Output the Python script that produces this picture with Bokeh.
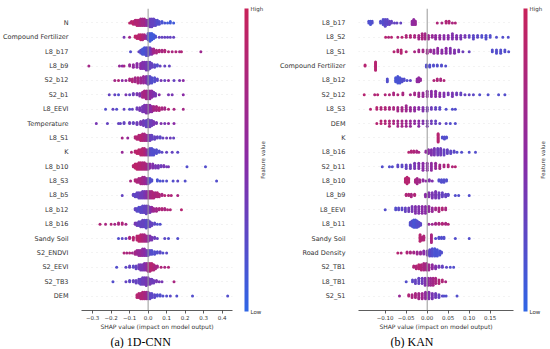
import numpy as np
from math import pi
from bokeh.plotting import figure
from bokeh.models import (ColumnDataSource, LinearColorMapper, FixedTicker,
                          Span, Range1d, Title)
from bokeh.core.properties import value
from bokeh.layouts import row
from bokeh.transform import linear_cmap
from bokeh.embed import file_html
from bokeh.resources import INLINE

# ---------------- (a) 1D-CNN ----------------
cnn_features = ["N", "Compound Fertilizer", "L8_b17", "L8_b9", "S2_b12", "S2_b1", "L8_EEVI",
                "Temperature", "L8_S1", "K", "L8_b10", "L8_S3", "L8_b5", "L8_b12", "L8_b16",
                "Sandy Soil", "S2_ENDVI", "S2_EEVI", "S2_TB3", "DEM"]
cnn_shap = [
    [-0.10, -0.09, -0.08, -0.07, -0.06, -0.05, -0.04, -0.03, -0.02, -0.01, 0.0, 0.01, 0.02, 0.03, 0.04, 0.05, 0.06, 0.075, 0.09, 0.105, 0.12, 0.138],
    [-0.13, -0.10, -0.07, -0.06, -0.05, -0.04, -0.03, -0.02, -0.01, 0.0, 0.01, 0.02, 0.03, 0.04, 0.06, 0.075, 0.09, 0.105, 0.12, 0.138],
    [-0.095, -0.05, -0.04, -0.03, -0.02, -0.01, 0.0, 0.01, 0.02, 0.03, 0.045, 0.06, 0.075, 0.09, 0.11, 0.13, 0.15, 0.17, 0.18, 0.285],
    [-0.32, -0.155, -0.14, -0.13, -0.10, -0.08, -0.06, -0.04, -0.03, -0.02, -0.01, 0.0, 0.01, 0.02, 0.035, 0.05, 0.065, 0.09, 0.115],
    [-0.18, -0.16, -0.14, -0.12, -0.10, -0.085, -0.07, -0.055, -0.04, -0.025, -0.01, 0.0, 0.01, 0.02, 0.035, 0.05, 0.07, 0.09, 0.11, 0.14, 0.17, 0.19],
    [-0.21, -0.18, -0.16, -0.12, -0.10, -0.08, -0.06, -0.045, -0.03, -0.02, -0.01, 0.0, 0.01, 0.02, 0.03, 0.04, 0.06, 0.11, 0.13, 0.19],
    [-0.23, -0.19, -0.17, -0.13, -0.10, -0.085, -0.06, -0.045, -0.03, -0.02, -0.01, 0.0, 0.01, 0.02, 0.03, 0.045, 0.06, 0.075, 0.09, 0.11, 0.14, 0.19],
    [-0.28, -0.22, -0.16, -0.15, -0.13, -0.10, -0.08, -0.06, -0.04, -0.025, -0.01, 0.0, 0.01, 0.02, 0.03, 0.045, 0.07, 0.09, 0.11, 0.14],
    [-0.14, -0.11, -0.07, -0.06, -0.05, -0.04, -0.03, -0.02, -0.01, 0.0, 0.01, 0.02, 0.035, 0.05, 0.065, 0.08, 0.10, 0.12, 0.138],
    [-0.14, -0.09, -0.07, -0.06, -0.05, -0.04, -0.03, -0.02, -0.01, 0.0, 0.01, 0.02, 0.03, 0.045, 0.06, 0.075, 0.10, 0.13, 0.16],
    [-0.08, -0.07, -0.06, -0.05, -0.04, -0.03, -0.02, -0.01, 0.0, 0.01, 0.025, 0.04, 0.055, 0.07, 0.085, 0.10, 0.11, 0.21, 0.31],
    [-0.095, -0.07, -0.06, -0.05, -0.04, -0.03, -0.02, -0.01, 0.0, 0.01, 0.02, 0.05, 0.065, 0.08, 0.10, 0.135, 0.16, 0.20, 0.37],
    [-0.14, -0.08, -0.07, -0.06, -0.05, -0.04, -0.03, -0.02, -0.01, 0.0, 0.01, 0.02, 0.03, 0.04, 0.05, 0.06, 0.075, 0.09, 0.11, 0.125, 0.16],
    [-0.07, -0.06, -0.05, -0.04, -0.03, -0.02, -0.01, 0.0, 0.01, 0.02, 0.03, 0.045, 0.06, 0.075, 0.09, 0.105, 0.12, 0.18],
    [-0.26, -0.23, -0.20, -0.18, -0.16, -0.14, -0.12, -0.07, -0.06, -0.05, -0.04, -0.03, -0.02, -0.01, 0.0, 0.01, 0.02, 0.035, 0.05, 0.065],
    [-0.16, -0.14, -0.12, -0.10, -0.08, -0.06, -0.05, -0.04, -0.03, -0.02, -0.01, 0.0, 0.01, 0.02, 0.035, 0.05, 0.09, 0.11, 0.16],
    [-0.13, -0.115, -0.10, -0.085, -0.07, -0.06, -0.05, -0.04, -0.03, -0.02, -0.01, 0.0, 0.01, 0.02, 0.035, 0.05, 0.065, 0.08, 0.10],
    [-0.17, -0.12, -0.10, -0.08, -0.065, -0.05, -0.04, -0.03, -0.02, -0.01, 0.0, 0.01, 0.02, 0.03, 0.04, 0.05, 0.07, 0.09, 0.11],
    [-0.19, -0.12, -0.10, -0.08, -0.065, -0.05, -0.04, -0.03, -0.02, -0.01, 0.0, 0.01, 0.02, 0.03, 0.045, 0.06, 0.075, 0.14],
    [-0.06, -0.05, -0.04, -0.03, -0.02, -0.01, 0.0, 0.01, 0.02, 0.035, 0.05, 0.065, 0.08, 0.10, 0.12, 0.155, 0.24, 0.43],
]
cnn_count = [
    [1, 2, 3, 4, 5, 5, 6, 6, 6, 5, 5, 7, 7, 6, 5, 4, 3, 2, 1, 1, 2, 1],
    [1, 1, 2, 3, 4, 5, 5, 4, 3, 6, 7, 6, 4, 2, 1, 1, 1, 1, 1, 1],
    [1, 1, 3, 5, 6, 7, 7, 6, 5, 4, 3, 2, 2, 2, 1, 1, 1, 1, 1, 1],
    [1, 1, 1, 1, 2, 3, 4, 5, 6, 6, 7, 7, 6, 4, 3, 2, 1, 1, 1],
    [1, 1, 1, 1, 2, 3, 4, 5, 5, 6, 6, 7, 6, 5, 4, 2, 1, 1, 1, 1, 1, 1],
    [1, 1, 1, 1, 1, 2, 2, 3, 5, 6, 7, 7, 7, 6, 4, 3, 1, 1, 1, 1],
    [1, 1, 1, 1, 1, 1, 2, 3, 5, 6, 7, 7, 6, 5, 4, 4, 3, 2, 2, 1, 1, 1],
    [1, 1, 1, 1, 2, 2, 2, 3, 4, 6, 7, 8, 7, 6, 4, 2, 1, 1, 1, 1],
    [1, 1, 2, 3, 4, 5, 6, 6, 5, 5, 5, 4, 3, 2, 2, 1, 1, 1, 1],
    [1, 1, 2, 3, 4, 5, 6, 6, 5, 5, 6, 6, 5, 4, 2, 1, 1, 1, 1],
    [2, 4, 5, 6, 6, 6, 6, 5, 5, 4, 4, 3, 3, 2, 2, 1, 1, 1, 1],
    [1, 2, 3, 4, 5, 6, 6, 5, 5, 4, 2, 2, 1, 1, 1, 1, 1, 1, 1],
    [1, 2, 3, 4, 5, 5, 6, 6, 6, 6, 6, 6, 5, 4, 4, 3, 2, 1, 1, 1, 1],
    [2, 3, 4, 5, 6, 6, 7, 6, 5, 4, 3, 3, 2, 2, 2, 1, 1, 1],
    [1, 1, 1, 1, 2, 2, 1, 2, 3, 4, 5, 6, 6, 7, 6, 5, 3, 2, 1, 1],
    [1, 1, 1, 2, 3, 4, 5, 6, 6, 6, 5, 5, 4, 3, 2, 1, 1, 1, 1],
    [1, 1, 1, 1, 3, 4, 5, 5, 6, 6, 5, 5, 4, 4, 3, 2, 2, 1, 1],
    [1, 1, 2, 2, 3, 4, 5, 5, 6, 6, 7, 7, 6, 5, 3, 2, 1, 1, 1],
    [1, 1, 2, 2, 3, 4, 5, 6, 6, 7, 6, 5, 4, 3, 2, 1, 1, 1],
    [3, 4, 5, 6, 6, 6, 6, 5, 4, 3, 2, 2, 1, 1, 1, 1, 1, 1],
]
cnn_value = [
    [.9, .85, .9, .8, .85, .8, .75, .7, .7, .6, .45, .35, .3, .3, .25, .2, .2, .15, .15, .1, .1, .1],
    [.4, .7, .9, .9, .85, .9, .8, .75, .6, .2, .1, .1, .1, .15, .3, .3, .3, .3, .3, .3],
    [.2, .3, .2, .15, .15, .2, .25, .3, .5, .7, .75, .8, .75, .8, .8, .75, .8, .7, .8, .65],
    [.7, .6, .5, .7, .6, .55, .5, .5, .45, .45, .4, .35, .3, .3, .25, .2, .3, .3, .3],
    [.7, .8, .5, .6, .75, .8, .7, .75, .65, .6, .5, .3, .25, .2, .2, .25, .4, .3, .5, .3, .4, .5],
    [.3, .3, .2, .4, .3, .35, .4, .45, .7, .75, .7, .6, .55, .5, .45, .4, .5, .4, .4, .5],
    [.2, .3, .2, .3, .2, .3, .35, .4, .4, .4, .45, .45, .5, .55, .7, .75, .8, .75, .7, .8, .75, .7],
    [.4, .3, .3, .3, .3, .35, .3, .35, .4, .35, .3, .3, .35, .35, .4, .4, .45, .4, .5, .5],
    [.7, .6, .8, .85, .8, .85, .8, .75, .7, .5, .35, .3, .3, .3, .25, .3, .35, .35, .3],
    [.6, .8, .85, .9, .9, .85, .85, .8, .7, .4, .25, .2, .2, .2, .2, .25, .3, .3, .25],
    [.85, .9, .9, .85, .85, .8, .8, .75, .6, .5, .45, .4, .4, .35, .4, .35, .4, .2, .2],
    [.75, .8, .8, .75, .75, .7, .65, .6, .35, .2, .2, .15, .15, .2, .2, .2, .25, .2, .2],
    [.3, .3, .25, .3, .3, .35, .35, .4, .45, .6, .7, .75, .8, .75, .8, .8, .75, .85, .8, .8, .75],
    [.3, .25, .2, .25, .25, .3, .3, .35, .4, .55, .65, .7, .75, .8, .75, .8, .8, .85],
    [.8, .75, .8, .7, .75, .8, .7, .4, .35, .3, .3, .3, .3, .25, .25, .3, .3, .25, .2, .2],
    [.2, .25, .3, .75, .85, .85, .9, .85, .8, .75, .7, .55, .45, .4, .35, .3, .25, .2, .2],
    [.8, .75, .8, .7, .7, .65, .6, .6, .55, .5, .45, .3, .25, .2, .2, .2, .25, .2, .25],
    [.2, .25, .3, .25, .3, .35, .4, .4, .45, .5, .7, .8, .85, .8, .75, .7, .8, .75, .8],
    [.2, .3, .25, .3, .3, .3, .3, .35, .35, .4, .4, .4, .35, .35, .4, .4, .4, .75],
    [.85, .85, .8, .8, .75, .7, .5, .3, .25, .25, .2, .2, .2, .2, .25, .2, .2, .2],
]
cnn_ticks = [-0.3, -0.2, -0.1, 0.0, 0.1, 0.2, 0.3, 0.4]
cnn_tick_labels = ["\u22120.3", "\u22120.2", "\u22120.1", "0.0", "0.1", "0.2", "0.3", "0.4"]

# ---------------- (b) KAN ----------------
kan_features = ["L8_b17", "L8_S2", "L8_S1", "Compound Fertilizer", "L8_b12", "S2_b12", "L8_S3",
                "DEM", "K", "L8_b16", "S2_b11", "L8_b10", "L8_b9", "L8_EEVI", "L8_b11",
                "Sandy Soil", "Road Density", "S2_TB1", "L8_TB1", "S2_S1"]
kan_shap = [
    [-0.139, -0.135, -0.131, -0.111, -0.105, -0.10, -0.095, -0.09, -0.085, -0.078, -0.072, -0.063, -0.036, -0.032, -0.028, 0.024, 0.035, 0.045, 0.052, 0.06, 0.067],
    [-0.099, -0.092, -0.085, -0.07, -0.06, -0.05, -0.04, -0.03, -0.02, -0.012, -0.005, 0.003, 0.012, 0.02, 0.03, 0.04, 0.05, 0.06, 0.07, 0.08, 0.09, 0.10, 0.11, 0.12, 0.13, 0.14, 0.15, 0.165, 0.18, 0.193],
    [-0.079, -0.07, -0.062, -0.05, -0.03, -0.02, -0.01, 0.0, 0.008, 0.016, 0.025, 0.035, 0.045, 0.055, 0.065, 0.075, 0.085, 0.10, 0.155, 0.165, 0.175, 0.185, 0.194],
    [-0.148, -0.123, -0.002, 0.006, 0.015, 0.024, 0.034, 0.044],
    [-0.095, -0.075, -0.07, -0.065, -0.06, -0.055, -0.048, -0.04, -0.024, -0.02, -0.016, 0.016, 0.024, 0.032, 0.04],
    [-0.15, -0.125, -0.118, -0.10, -0.09, -0.08, -0.07, -0.058, -0.04, -0.03, -0.02, -0.01, 0.0, 0.01, 0.02, 0.03, 0.04, 0.05, 0.06, 0.07, 0.08, 0.09, 0.10, 0.11, 0.125, 0.145, 0.17, 0.185],
    [-0.135, -0.12, -0.11, -0.10, -0.09, -0.08, -0.07, -0.06, -0.05, -0.04, -0.03, -0.02, -0.01, 0.0, 0.01, 0.02, 0.03, 0.045, 0.06, 0.067],
    [-0.12, -0.11, -0.10, -0.09, -0.08, -0.07, -0.06, -0.05, -0.04, -0.03, -0.02, -0.01, 0.0, 0.01, 0.02, 0.03, 0.045, 0.055, 0.067],
    [0.026, 0.036, 0.041, 0.046],
    [-0.044, -0.038, -0.032, -0.025, -0.02, -0.003, 0.003, 0.01, 0.017, 0.025, 0.032, 0.04, 0.048, 0.056, 0.064, 0.071, 0.082, 0.10, 0.115],
    [-0.107, -0.09, -0.083, -0.07, -0.06, -0.05, -0.04, -0.03, -0.02, -0.01, 0.0, 0.01, 0.02, 0.03, 0.04, 0.05, 0.06, 0.067],
    [-0.052, -0.048, -0.044, -0.028, -0.024, -0.018, -0.01, -0.003, 0.005, 0.012, 0.028, 0.034, 0.04, 0.046],
    [-0.05, -0.044, -0.038, -0.03, -0.004, 0.004, 0.012, 0.02, 0.028, 0.036, 0.044, 0.05, 0.067, 0.075, 0.10],
    [-0.10, -0.075, -0.068, -0.06, -0.052, -0.044, -0.036, -0.028, -0.02, -0.012, -0.004, 0.004, 0.012, 0.02, 0.028, 0.036, 0.044],
    [-0.04, -0.036, -0.032, -0.028, -0.024, -0.02, -0.016, 0.004, 0.012, 0.02, 0.028, 0.036, 0.044, 0.05],
    [-0.017, -0.012, -0.008, 0.01, 0.02, 0.028, 0.034, 0.04, 0.067, 0.10],
    [-0.07, -0.062, -0.048, -0.04, -0.032, -0.024, -0.016, -0.008, 0.0, 0.006, 0.012, 0.018, 0.024, 0.03, 0.034],
    [-0.032, -0.026, -0.02, -0.014, -0.008, -0.002, 0.004, 0.012, 0.02, 0.028, 0.036, 0.046, 0.055, 0.063],
    [-0.05, -0.035, -0.028, -0.02, -0.012, -0.005, 0.002, 0.008, 0.014, 0.02, 0.028, 0.036, 0.044],
    [-0.066, -0.044, -0.036, -0.028, -0.02, -0.012, -0.004, 0.004, 0.012, 0.02, 0.028, 0.036, 0.04, 0.045, 0.071],
]
kan_count = [
    [2, 3, 2, 2, 4, 5, 4, 3, 2, 1, 1, 1, 3, 4, 3, 1, 1, 2, 2, 1, 1],
    [1, 1, 1, 1, 1, 2, 2, 2, 3, 4, 4, 3, 2, 3, 3, 3, 3, 4, 3, 3, 2, 2, 3, 2, 2, 3, 2, 1, 1, 1],
    [1, 2, 3, 1, 1, 2, 2, 3, 2, 3, 4, 3, 4, 4, 3, 2, 1, 1, 2, 3, 3, 2, 1],
    [2, 9, 3, 3, 2, 2, 2, 1],
    [3, 4, 6, 5, 3, 2, 1, 1, 3, 4, 2, 1, 2, 2, 1],
    [1, 1, 1, 1, 1, 2, 1, 2, 1, 2, 3, 3, 4, 4, 4, 3, 3, 2, 3, 2, 2, 1, 1, 1, 1, 1, 1, 1],
    [1, 2, 2, 2, 2, 2, 3, 3, 4, 3, 3, 2, 3, 3, 2, 2, 2, 1, 1, 1],
    [1, 2, 2, 3, 2, 3, 3, 3, 3, 2, 3, 2, 3, 2, 2, 1, 1, 1, 1],
    [9, 2, 3, 2],
    [1, 2, 2, 2, 1, 2, 4, 5, 6, 6, 6, 5, 4, 3, 2, 1, 1, 1, 1],
    [1, 1, 1, 2, 2, 3, 3, 4, 4, 5, 5, 5, 4, 3, 2, 2, 1, 1],
    [4, 6, 4, 3, 5, 3, 2, 1, 2, 1, 2, 3, 3, 2],
    [2, 2, 3, 2, 3, 4, 5, 6, 5, 4, 3, 2, 1, 1, 1],
    [1, 2, 2, 2, 3, 3, 4, 5, 5, 5, 5, 4, 3, 2, 3, 2, 2],
    [4, 6, 8, 8, 7, 5, 3, 1, 1, 2, 2, 2, 2, 1],
    [6, 3, 4, 7, 1, 2, 2, 2, 1, 1],
    [1, 1, 2, 2, 2, 3, 3, 4, 5, 7, 8, 8, 7, 5, 2],
    [2, 3, 4, 5, 6, 6, 5, 4, 3, 2, 2, 1, 1, 1],
    [1, 2, 3, 4, 4, 5, 5, 5, 5, 4, 3, 2, 1],
    [1, 2, 3, 4, 5, 5, 6, 6, 5, 4, 3, 1, 1, 1, 1],
]
kan_value = [
    [.2, .15, .2, .2, .2, .25, .25, .3, .3, .3, .3, .3, .55, .55, .6, .8, .75, .8, .8, .75, .8],
    [.85, .8, .85, .8, .85, .8, .8, .75, .7, .75, .7, .65, .6, .55, .55, .5, .5, .45, .45, .4, .4, .3, .25, .25, .2, .2, .2, .2, .2, .2],
    [.85, .8, .85, .8, .75, .7, .7, .65, .6, .55, .55, .5, .5, .45, .45, .4, .35, .3, .2, .2, .2, .2, .2],
    [.85, .85, .2, .2, .2, .2, .2, .2],
    [.2, .15, .15, .15, .2, .2, .2, .25, .55, .55, .6, .8, .8, .75, .8],
    [.85, .8, .85, .8, .8, .75, .8, .75, .7, .7, .65, .6, .55, .5, .5, .5, .45, .4, .4, .35, .3, .3, .3, .25, .2, .2, .2, .2],
    [.85, .85, .8, .8, .75, .75, .7, .7, .65, .6, .55, .5, .45, .4, .35, .3, .25, .2, .2, .2],
    [.85, .85, .8, .8, .75, .7, .7, .65, .6, .55, .5, .45, .4, .35, .3, .3, .25, .2, .2],
    [.85, .2, .2, .2],
    [.85, .8, .8, .75, .75, .55, .5, .45, .4, .35, .35, .3, .3, .25, .25, .2, .2, .2, .2],
    [.2, .2, .2, .25, .25, .3, .35, .4, .45, .5, .5, .55, .6, .7, .75, .8, .8, .85],
    [.85, .85, .85, .75, .7, .7, .55, .5, .45, .45, .2, .2, .2, .2],
    [.8, .8, .75, .8, .5, .45, .4, .4, .35, .3, .3, .25, .2, .2, .2],
    [.2, .2, .25, .25, .3, .35, .4, .45, .45, .5, .5, .55, .6, .7, .75, .8, .75],
    [.2, .2, .15, .15, .2, .2, .25, .6, .65, .7, .75, .8, .75, .8],
    [.85, .8, .8, .75, .2, .2, .2, .2, .2, .2],
    [.85, .8, .8, .75, .7, .65, .6, .5, .4, .25, .2, .15, .15, .15, .2],
    [.8, .8, .85, .8, .75, .7, .65, .55, .45, .4, .3, .25, .2, .2],
    [.2, .25, .3, .3, .35, .45, .55, .65, .7, .75, .8, .8, .75],
    [.6, .8, .75, .75, .7, .65, .55, .45, .4, .35, .3, .25, .2, .2, .2],
]
kan_ticks = [-0.10, -0.05, 0.0, 0.05, 0.10, 0.15]
kan_tick_labels = ["\u22120.10", "\u22120.05", "0.00", "0.05", "0.10", "0.15"]

colorbar_labels = ["Low", "High"]
colorbar_title = "Feature value"

# ---------------- styling helpers ----------------
def make_palette(n=256):
    anchors = np.array([[0x2f, 0x66, 0xe6], [0x8a, 0x2b, 0xa6], [0xc8, 0x22, 0x5a]], float)
    out = []
    for t in np.linspace(0, 1, n):
        if t <= 0.5:
            c = anchors[0] + (anchors[1] - anchors[0]) * (t / 0.5)
        else:
            c = anchors[1] + (anchors[2] - anchors[1]) * ((t - 0.5) / 0.5)
        out.append("#%02x%02x%02x" % tuple(int(round(v)) for v in c))
    return out

PALETTE = make_palette()
TXT = "#333333"
FONT = "DejaVu Sans"
FIG_H = 348
TOP = 8
FRAME_H = 303
BOTTOM = FIG_H - TOP - FRAME_H


def no_align(f):
    if "frame_align" in f.properties():
        f.frame_align = False
    return f


def swarm(xs, row_height=0.4, nbins=100):
    xs = np.asarray(xs, float)
    rng = xs.max() - xs.min()
    quant = np.round(nbins * (xs - xs.min()) / (rng + 1e-8))
    order = np.argsort(quant, kind="stable")
    ys = np.zeros(len(xs))
    layer, last = 0, None
    for i in order:
        if quant[i] != last:
            layer = 0
        ys[i] = np.ceil(layer / 2) * ((layer % 2) * 2 - 1)
        layer += 1
        last = quant[i]
    ys *= 0.9 * (row_height / np.max(ys + 1))
    return ys


def build(features, shap_rows, count_rows, value_rows):
    n = len(features)
    X, Y, F = [], [], []
    for i in range(n):
        s, c, v = shap_rows[i], count_rows[i], value_rows[i]
        assert len(s) == len(c) == len(v), (features[i], len(s), len(c), len(v))
        x = np.repeat(np.array(s, float), c)
        f = np.repeat(np.array(v, float), c)
        y = (n - 1 - i) + swarm(x)
        X.extend(x.tolist()); Y.extend(y.tolist()); F.extend(f.tolist())
    return ColumnDataSource(dict(x=X, y=Y, f=F))


def panel(features, shap_rows, count_rows, value_rows, xr, ticks, tick_labels,
          width, border_left, caption, cap_x):
    n = len(features)
    p = figure(width=width, height=FIG_H, x_range=Range1d(*xr), y_range=Range1d(-1, n),
               output_backend="svg", toolbar_location=None,
               min_border_left=border_left, min_border_right=1,
               min_border_top=TOP, min_border_bottom=BOTTOM)
    no_align(p)
    p.outline_line_color = None
    p.xgrid.visible = False
    p.ygrid.ticker = FixedTicker(ticks=list(range(n)))
    p.ygrid.grid_line_color = "#cccccc"
    p.ygrid.grid_line_width = 0.5
    p.ygrid.grid_line_dash = "1 4"

    yax = p.yaxis[0]
    yax.ticker = FixedTicker(ticks=list(range(n)))
    yax.major_label_overrides = {n - 1 - i: name for i, name in enumerate(features)}
    yax.axis_line_color = None
    yax.major_tick_line_color = None
    yax.minor_tick_line_color = None
    yax.major_label_standoff = 7
    yax.major_label_text_font_size = "6.5px"
    yax.major_label_text_font = FONT
    yax.major_label_text_color = TXT

    xax = p.xaxis[0]
    xax.ticker = FixedTicker(ticks=ticks)
    xax.major_label_overrides = {t: l for t, l in zip(ticks, tick_labels)}
    xax.axis_line_color = TXT
    xax.axis_line_width = 0.8
    xax.major_tick_line_color = TXT
    xax.major_tick_line_width = 0.8
    xax.major_tick_out = 3
    xax.major_tick_in = 0
    xax.minor_tick_line_color = None
    xax.major_label_text_font_size = "5.5px"
    xax.major_label_text_font = FONT
    xax.major_label_text_color = TXT
    xax.major_label_standoff = 1
    xax.axis_label = "SHAP value (impact on model output)"
    xax.axis_label_text_font_size = "6px"
    xax.axis_label_text_font = FONT
    xax.axis_label_text_font_style = "normal"
    xax.axis_label_text_color = TXT
    xax.axis_label_standoff = 0

    p.add_layout(Span(location=0, dimension="height", line_color="#999999", line_width=1))

    src = build(features, shap_rows, count_rows, value_rows)
    p.scatter("x", "y", source=src, size=3, line_color=None,
              fill_color=linear_cmap("f", PALETTE, 0, 1))

    p.add_layout(Title(text=caption, align="left", offset=cap_x, standoff=0,
                       text_font="Liberation Serif", text_font_size="12px",
                       text_font_style="normal", text_color="#000000"), "below")
    return p


def colorbar_fig(width, bar_x, fv_x):
    # y: 0..1 spans exactly the beeswarm frame; x in pixels
    y0 = -BOTTOM / FRAME_H
    y1 = 1 + TOP / FRAME_H
    f = figure(width=width, height=FIG_H, x_range=Range1d(0, width), y_range=Range1d(y0, y1),
               output_backend="svg", toolbar_location=None,
               min_border_left=0, min_border_right=0, min_border_top=0, min_border_bottom=0,
               x_axis_type=None, y_axis_type=None)
    no_align(f)
    f.outline_line_color = None
    f.xgrid.visible = False
    f.ygrid.visible = False
    mapper = LinearColorMapper(palette=PALETTE, low=0, high=1)
    f.image(image=[np.linspace(0, 1, 256).reshape(256, 1)], x=bar_x, y=0, dw=4, dh=1,
            color_mapper=mapper)
    f.text(x=[bar_x + 6, bar_x + 6], y=[0, 1], text=colorbar_labels,
           text_font=value(FONT), text_font_size="5.5px", text_color=TXT,
           text_align="left", text_baseline="middle")
    f.text(x=[fv_x], y=[0.5], text=[colorbar_title], angle=pi / 2,
           text_font=value(FONT), text_font_size="5.5px", text_color=TXT,
           text_align="center", text_baseline="middle")
    return f


pa = panel(cnn_features, cnn_shap, cnn_count, cnn_value, (-0.36, 0.456), cnn_ticks,
           cnn_tick_labels, 233, 78, "(a) 1D-CNN", 29)
ca = colorbar_fig(42, 11, 29)
pb = panel(kan_features, kan_shap, kan_count, kan_value, (-0.1636, 0.2055), kan_ticks,
           kan_tick_labels, 239, 83, "(b) KAN", 32)
cbb = colorbar_fig(35, 9, 28)

layout = row(pa, ca, pb, cbb)
open("out.html", "w").write(file_html(layout, INLINE))
